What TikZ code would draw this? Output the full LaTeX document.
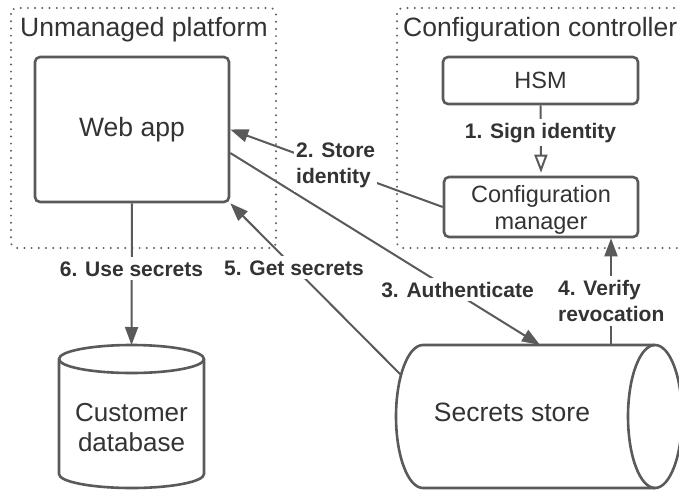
\documentclass[tikz,border=0pt]{standalone}
\usepackage{fontspec}
\setmainfont{Liberation Sans}
\usetikzlibrary{arrows.meta}
\definecolor{ln}{HTML}{5A5A5A}
\definecolor{tx}{HTML}{333333}
\definecolor{dt}{HTML}{5E5E5E}
\begin{document}
\begin{tikzpicture}[x=1pt,y=-1pt,
  box/.style={draw=ln, line width=2.6pt, rounded corners=5pt, fill=white, inner sep=0pt, text=tx, align=center},
  cyl/.style={draw=ln, line width=2.6pt, fill=white},
  conn/.style={draw=ln, line width=2pt},
  arr/.style={-{Triangle[length=18pt,width=13pt]}},
  oarr/.style={-{Triangle[open,length=18pt,width=13pt,fill=white]}},
  grp/.style={draw=dt, line width=2.2pt, dash pattern=on 0pt off 7.2pt, line cap=round, rounded corners=6pt},
  lbl/.style={fill=white, text=tx, inner xsep=2pt, inner ysep=4pt, font=\fontsize{21}{26}\selectfont\bfseries},
  big/.style={font=\fontsize{26.5}{30}\selectfont},
  mid/.style={font=\fontsize{23.5}{27}\selectfont},
  ttl/.style={big, text=tx, anchor=base west, inner sep=0pt},
]
\useasboundingbox (0,0) rectangle (679,490);
\clip (0,0) rectangle (679,490);
\fill[white] (0,0) rectangle (679,490);

% groups
\draw[grp] (11,8) rectangle (276,248);
\draw[grp] (397,8) rectangle (720,248);
\node[ttl] (t1) at (20,36) {Unmanaged platform};
\node[ttl] (t2) at (403,36) {Configuration controller};

% boxes
\node[box, big, minimum width=194pt, minimum height=145pt] (webapp) at (132,129.5) {Web app};
\node[box, mid, minimum width=195pt, minimum height=47pt] (hsm) at (540.5,80.5) {HSM};
\node[box, mid, minimum width=194pt, minimum height=60pt, text depth=0pt] (cm) at (541,207) {Configuration\\manager};

% customer database cylinder
\draw[cyl] (59,359) -- (59,474) arc[start angle=180,end angle=0,x radius=72.5,y radius=14]
  -- (204,359) arc[start angle=0,end angle=-180,x radius=72.5,y radius=14] -- cycle;
\draw[cyl, fill=none] (59,359) arc[start angle=180,end angle=0,x radius=72.5,y radius=14];
\node[text=tx, align=center, font=\fontsize{26}{30}\selectfont] (db) at (131.5,427.5) {Customer\\database};

% secrets store cylinder
\draw[cyl] (423,345) -- (655,345) arc[start angle=-90,end angle=90,x radius=27,y radius=71.5]
  -- (423,488) arc[start angle=90,end angle=270,x radius=27,y radius=71.5] -- cycle;
\draw[cyl, fill=none] (655,488) arc[start angle=90,end angle=270,x radius=27,y radius=71.5];
\node[big, text=tx] (ss) at (512,412) {Secrets store};

\coordinate (dbtop) at (131.5,345);
\coordinate (ssauth) at (540,345);
\coordinate (ssver) at (611,345);
\coordinate (ssleft) at (401,375);

% connectors
\draw[conn, oarr] (hsm.south) -- ([yshift=3pt]cm.north);
\draw[conn, arr] (cm.west) -- (webapp.east);
\draw[conn, arr] ([yshift=-23.5pt]webapp.east) -- (ssauth);
\draw[conn, arr] (ssleft) -- (webapp.south east);
\draw[conn, arr] (ssver) -- (cm.south -| ssver);
\draw[conn, arr] (webapp.south) -- (dbtop);

% labels
\node[lbl, anchor=base] (l1) at (540.5,138) {1. Sign identity};
\node[lbl, anchor=west, align=left] (l2) at (294,165.5) {2. Store\\identity};
\node[lbl, anchor=base] (l3) at (457.5,297) {3. Authenticate};
\node[lbl, anchor=west, align=left] (l4) at (556,301) {4. Verify\\revocation};
\node[lbl, anchor=base] (l5) at (294,275) {5. Get secrets};
\node[lbl, anchor=base] (l6) at (131.5,276) {6. Use secrets};
\end{tikzpicture}
\end{document}
